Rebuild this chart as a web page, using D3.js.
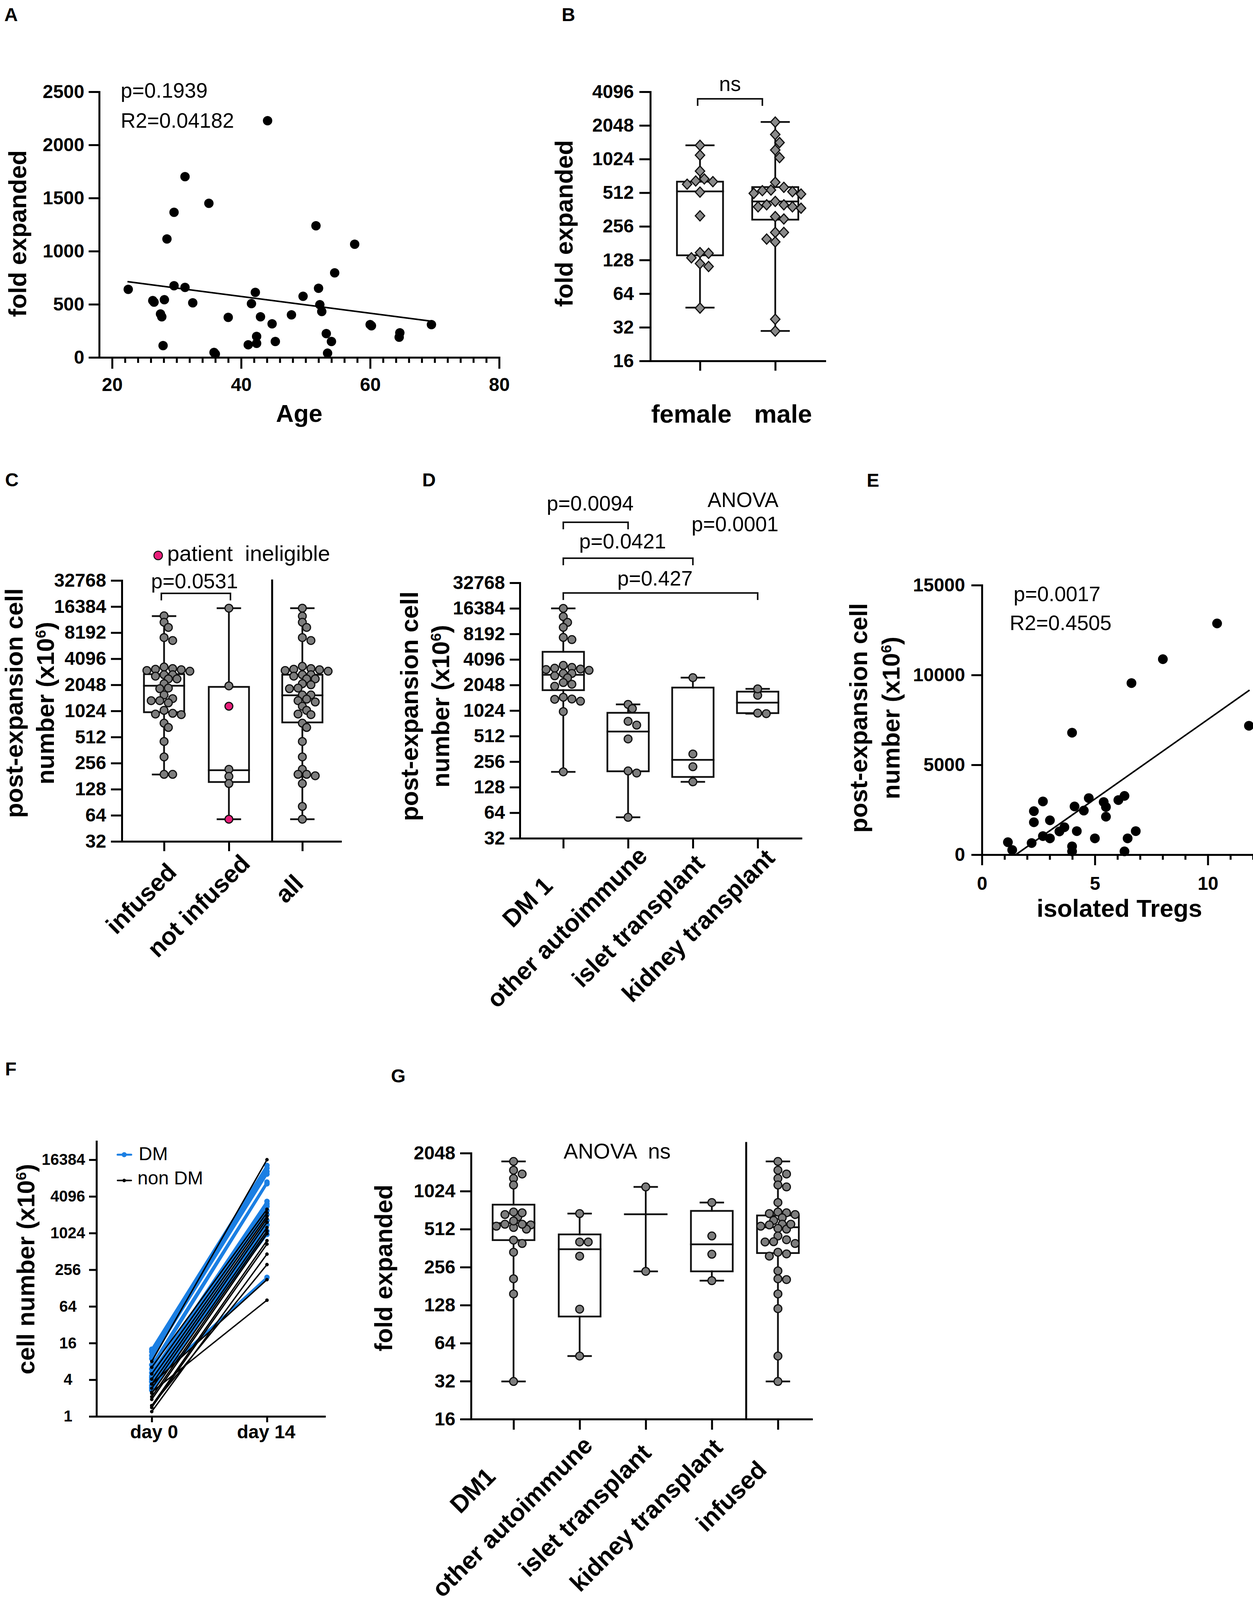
<!DOCTYPE html>
<html><head><meta charset="utf-8">
<script src="https://cdn.jsdelivr.net/npm/d3@7"></script>
<style>
body{margin:0;background:#fff;}
text{font-family:"Liberation Sans", Arial, Helvetica, sans-serif;}
</style></head><body>
<script>
// ---------------- DATA ----------------
// A: age vs fold expanded
const ageA  = [22.5,26.3,26.5,28.1,27.5,27.7,27.9,28.5,29.6,29.6,31.3,31.3,32.5,35.0,35.8,36.0,38.0,41.1,41.6,42.2,42.4,42.4,43.0,44.1,44.8,45.3,47.8,49.6,51.6,52.0,52.2,52.5,53.2,53.4,54.0,54.5,57.6,60.0,60.2,64.6,64.5,69.5];
const foldA = [641,535,520,543,409,382,111,1115,1366,675,1701,659,514,1450,47,32,377,119,506,612,198,132,382,2228,316,150,401,575,1239,651,496,432,224,40,150,796,1065,309,298,232,190,309];
const fitAx = [22.5, 69.6];
const fitAy = [712, 340];
const xTicksA = [20,40,60,80];
const yTicksA = [0,500,1000,1500,2000,2500];

// B: fold expanded by sex
const catsB = ["female","male"];
const bFemale = [1360,1110,800,680,643,652,610,519,318,147,149,134,119,112,47.5];
const bMale = [2195,1700,1440,1235,1055,635,541,572,534,523,498,505,428,399,399,383,372,383,298,313,226,226,186,197,37.8,29.6];
const boxB = [[48,141,526,643,1360],[29.7,294,428,575,2200]]; // min,q1,median,q3,max
const yTicksB = [16,32,64,128,256,512,1024,2048,4096];

// C: post-expansion cell number by infusion
const catsC = ["infused","not infused","all"];
const cInfused = [12800,10800,9420,7190,6650,3100,3290,3160,3060,3000,2940,2680,2680,2580,2400,2400,2110,1850,1880,1565,1345,1420,1270,1345,962,943,928,1040,740,660,455,302,190,190];
const cNotInfused = [15700,1990,1160,217,180,149,57.7];
const cNotInfusedIneligible = [false,false,true,false,false,false,true];
const cAll = [15700,12700,10800,9420,7190,6650,3000,3160,3100,3060,3350,2940,2680,2680,2580,2400,2400,2110,2050,1850,1880,1565,1565,1300,1400,1345,1160,1040,943,928,740,660,455,302,217,183,190,190,149,81,57.7];
const boxC = [[189,990,2000,2720,12700],[57.7,155,212,1940,15700],[57.7,755,1550,2680,15700]];
const yTicksCD = [32,64,128,256,512,1024,2048,4096,8192,16384,32768];

// D: post-expansion cell number by indication
const catsD = ["DM 1","other autoimmune","islet transplant","kidney transplant"];
const dDM1 = [16384,13100,11200,9800,7450,7020,3120,3230,3490,3300,3160,3050,2800,2800,2490,2630,2090,2190,1980,1400,1470,1320,1390,995,194];
const dOther = [1210,1080,765,690,474,199,188,56.5];
const dIslet = [2500,315,223,148];
const dKidney = [1550,1845,942,955];
const boxD = [[194,1780,2700,5040,16384],[56.5,197,580,963,1210],[148,169,269,1910,2500],[942,955,1270,1710,1845]];
const pD = ["p=0.0094","p=0.0421","p=0.427"];

// E: isolated Tregs vs post-expansion cell number
const tregE  = [10.41,8.01,6.62,11.82,3.99,4.73,6.31,6.04,5.39,5.49,5.49,4.10,4.51,2.70,2.30,2.30,3.01,3.65,3.43,4.20,2.70,3.01,5.0,2.20,1.15,1.34,3.99,3.99,6.45,6.81,6.31];
const cellsE = [12870,10880,9550,7176,6790,3148,3272,3040,2932,2654,2114,2685,2454,2963,2423,1805,1913,1528,1296,1312,1034,910,910,648,694,262,463,185,910,1312,185];
const fitEx = [1.5, 11.82];
const fitEy = [0, 9136];
const yTicksE = [0,5000,10000,15000];
const xTicksE = [0,5,10];

// F: cell number day 0 -> day 14
const daysF = ["day 0","day 14"];
const fDay0DM  = [12.7,11.5,10.0,8.9,7.0,6.0,5.2,4.6,4.3,3.7,3.2,2.7,3.0,3.7,2.9,4.0];
const fDay14DM = [13200,11900,10500,9500,7050,6600,3400,3080,2800,2070,1640,1400,970,192,1100,2400];
const fDay0Non  = [8.0,6.4,5.0,4.1,3.4,2.9,2.4,2.1,1.9,1.5,1.4,1.2,1.5,3.4,2.5];
const fDay14Non = [16400,2520,2210,1940,1760,1540,1260,1110,1000,770,675,462,311,176,81];
const yTicksF = [1,4,16,64,256,1024,4096,16384];

// G: fold expanded by indication
const catsG = ["DM1","other autoimmune","islet transplant","kidney transplant","infused"];
const gDM1 = [1760,1500,1400,1290,1145,640,700,690,668,528,553,594,512,560,560,540,419,394,336,207,157,31.8];
const gOther = [680,405,405,313,119,50.6];
const gIslet = [1105,237];
const gKidney = [832,452,324,200];
const gInfused = [1760,1500,1400,1290,1145,1105,832,700,680,690,668,630,600,553,560,512,519,560,540,452,407,422,394,405,313,326,336,239,204,207,157,120,50.6,31.8];
const boxG = [[31.8,419,571,800,1760],[50.6,104,355,465,680],[237,null,672,null,1105],[200,237,388,714,832],[31.8,331,530,657,1760]];
const yTicksG = [16,32,64,128,256,512,1024,2048];

// ---------------- DRAWING ----------------
const W = 3208, H = 4107;
const FONT = '"Liberation Sans", Arial, Helvetica, sans-serif';
const TICKFS = 48, TITLEFS = 63, ANNFS = 53;
const AXW = 5, BOXW = 4.5;
const INK = '#111', GRAY = '#7d7d7d', DGRAY = '#8a8a8a', PINK = '#e91e7a', BLUE = '#1b7fe3';
const intFmt = d3.format('d');

const svg = d3.select('body').append('svg').attr('width', W).attr('height', H)
  .attr('viewBox', `0 0 ${W} ${H}`);
svg.append('rect').attr('width', W).attr('height', H).attr('fill', '#fff');

function styleAxis(g, fs = TICKFS) {
  g.attr('font-family', null).attr('font-size', null);
  g.select('.domain').attr('stroke', '#000').attr('stroke-width', AXW).attr('stroke-linecap', 'square');
  g.selectAll('.tick line').attr('stroke', '#000').attr('stroke-width', AXW);
  g.selectAll('.tick text').attr('fill', '#000').attr('font-size', fs).attr('font-weight', 'bold')
    .attr('font-family', FONT);
  return g;
}
function txt(x, y, s, opts = {}) {
  return svg.append('text').attr('x', x).attr('y', y)
    .attr('font-size', opts.fs || ANNFS).attr('font-weight', opts.bold ? 'bold' : 'normal')
    .attr('text-anchor', opts.anchor || 'start').attr('fill', '#000').text(s);
}
function panelLabel(s, x, y) { txt(x, y, s, {fs: 48, bold: true}); }
function yTitle(lines, xs, cy) {
  lines.forEach((ln, i) => {
    const t = svg.append('text').attr('transform', `translate(${xs[i]},${cy}) rotate(-90)`)
      .attr('text-anchor', 'middle').attr('font-size', TITLEFS).attr('font-weight', 'bold');
    if (typeof ln === 'string') t.text(ln);
    else {
      t.append('tspan').text(ln[0]);
      t.append('tspan').attr('baseline-shift', 'super').attr('font-size', TITLEFS * 0.6).text(ln[1]);
      t.append('tspan').text(ln[2]);
    }
  });
}
function rotLabels(names, xs, axisY, a, b, k = 0.27) {
  names.forEach((n, i) => {
    const t = svg.append('text').attr('text-anchor', 'end').attr('font-size', TITLEFS)
      .attr('font-weight', 'bold').text(n);
    const L = t.node().getComputedTextLength();
    const s = k * L * Math.SQRT1_2;
    t.attr('transform', `translate(${xs[i] + a + s},${axisY + b - s}) rotate(-45)`);
  });
}
function line(g, x1, y1, x2, y2, w = BOXW, c = INK) {
  return g.append('line').attr('x1', x1).attr('y1', y1).attr('x2', x2).attr('y2', y2)
    .attr('stroke', c).attr('stroke-width', w).attr('stroke-linecap', 'square');
}
function boxplot(cx, st, y, bw, cw) {
  const g = svg.append('g');
  const [mn, q1, md, q3, mx] = st;
  if (q1 != null) {
    line(g, cx, y(q3), cx, y(mx));
    line(g, cx, y(q1), cx, y(mn));
    g.append('rect').attr('x', cx - bw / 2).attr('y', y(q3)).attr('width', bw).attr('height', y(q1) - y(q3))
      .attr('fill', 'none').attr('stroke', INK).attr('stroke-width', BOXW);
  } else {
    line(g, cx, y(mx), cx, y(mn));
  }
  line(g, cx - cw / 2, y(mx), cx + cw / 2, y(mx));
  line(g, cx - cw / 2, y(mn), cx + cw / 2, y(mn));
  line(g, cx - bw / 2, y(md), cx + bw / 2, y(md));
}
function swarm(vals, y, minD, step) {
  const order = d3.range(vals.length).sort((a, b) => (y(vals[a]) - y(vals[b])) || (a - b));
  const placed = [], xs = new Array(vals.length).fill(0);
  for (const i of order) {
    const py = y(vals[i]);
    for (let k = 0; k < 80; k++) {
      const off = k === 0 ? 0 : (k % 2 ? 1 : -1) * Math.ceil(k / 2) * step;
      let ok = true;
      for (const p of placed) {
        const dy = p.y - py, dx = p.x - off;
        if (dx * dx + dy * dy < minD * minD) { ok = false; break; }
      }
      if (ok) { xs[i] = off; placed.push({x: off, y: py}); break; }
    }
  }
  return xs;
}
function circles(vals, cx, y, fills) {
  const offs = swarm(vals, y, 15, 11);
  const g = svg.append('g');
  vals.forEach((v, i) => {
    g.append('circle').attr('cx', cx + offs[i]).attr('cy', y(v)).attr('r', 10)
      .attr('fill', fills ? fills[i] : GRAY).attr('stroke', INK).attr('stroke-width', 3);
  });
}
function bracket(x1, x2, yb, leg = 18) {
  svg.append('path').attr('d', `M${x1},${yb + leg}V${yb}H${x2}V${yb + leg}`)
    .attr('fill', 'none').attr('stroke', INK).attr('stroke-width', 4);
}

// ===== Panel A =====
panelLabel('A', 11, 54);
const xA = d3.scaleLinear().domain([18, 80]).range([254, 1278]);
const yA = d3.scaleLinear().domain([0, 2500]).range([915, 235]);
styleAxis(svg.append('g').attr('transform', 'translate(254,0)')
  .call(d3.axisLeft(yA).tickValues(yTicksA).tickFormat(intFmt).tickSize(27).tickPadding(11).tickSizeOuter(0)));
styleAxis(svg.append('g').attr('transform', 'translate(0,915)')
  .call(d3.axisBottom(xA).tickValues(d3.range(22, 80, 2).filter(v => v % 20 !== 0)).tickSize(14).tickFormat('').tickSizeOuter(0)));
styleAxis(svg.append('g').attr('transform', 'translate(0,915)')
  .call(d3.axisBottom(xA).tickValues(xTicksA).tickFormat(intFmt).tickSize(29).tickPadding(23).tickSizeOuter(0)));
line(svg, xA(fitAx[0]), yA(fitAy[0]), xA(fitAx[1]), yA(fitAy[1]), 4, '#000');
svg.append('g').selectAll('circle').data(ageA).join('circle')
  .attr('cx', (d) => xA(d)).attr('cy', (d, i) => yA(foldA[i])).attr('r', 12).attr('fill', '#000');
txt(309, 250, 'p=0.1939');
txt(309, 327, 'R2=0.04182');
yTitle(['fold expanded'], [67], 598);
txt(766, 1080, 'Age', {fs: TITLEFS, bold: true, anchor: 'middle'});

// ===== Panel B =====
panelLabel('B', 1438, 54);
const xB = d3.scalePoint().domain(catsB).range([1665, 2112]).padding(0.66);
const yB = d3.scaleLog().base(2).domain([16, 4096]).range([924, 235]);
styleAxis(svg.append('g').attr('transform', 'translate(1665,0)')
  .call(d3.axisLeft(yB).tickValues(yTicksB).tickFormat(intFmt).tickSize(28).tickPadding(14).tickSizeOuter(0)));
styleAxis(svg.append('g').attr('transform', 'translate(0,924)')
  .call(d3.axisBottom(xB).tickSize(25).tickFormat('').tickSizeOuter(0)));
[bFemale, bMale].forEach((vals, ci) => {
  const cx = xB(catsB[ci]);
  boxplot(cx, boxB[ci], yB, 118, 70);
  const offs = swarm(vals, yB, 21, 11);
  const g = svg.append('g');
  vals.forEach((v, i) => {
    g.append('path').attr('transform', `translate(${cx + offs[i]},${yB(v)})`)
      .attr('d', 'M0,-13L12,0L0,13L-12,0Z').attr('fill', DGRAY).attr('stroke', INK).attr('stroke-width', 3);
  });
});
catsB.forEach(c => txt(xB(c) + (c === 'female' ? -22 : 20), 1082, c, {fs: TITLEFS + 2, bold: true, anchor: 'middle'}));
bracket(xB('female') - 6, xB('male') - 33, 253);
txt((xB('female') - 6 + xB('male') - 33) / 2, 233, 'ns', {anchor: 'middle'});
yTitle(['fold expanded'], [1466], 572);

// ===== Panel C =====
panelLabel('C', 13, 1245);
const xC = d3.scaleLinear().domain([-0.651, 2.723]).range([312, 872]);
const idxC = [0, 1, 2.133];
const yC = d3.scaleLog().base(2).domain([32, 32768]).range([2154, 1486]);
styleAxis(svg.append('g').attr('transform', 'translate(312,0)')
  .call(d3.axisLeft(yC).tickValues(yTicksCD).tickFormat(intFmt).tickSize(28).tickPadding(12).tickSizeOuter(0)));
styleAxis(svg.append('g').attr('transform', 'translate(0,2154)')
  .call(d3.axisBottom(xC).tickValues(idxC).tickSize(25).tickFormat('').tickSizeOuter(0)));
line(svg, xC(1.667), yC(32768), xC(1.667), yC(32), AXW, '#000');
[cInfused, cNotInfused, cAll].forEach((vals, ci) => {
  const cx = xC(idxC[ci]);
  boxplot(cx, boxC[ci], yC, 103, 58);
  circles(vals, cx, yC, ci === 1 ? cNotInfusedIneligible.map(f => f ? PINK : GRAY) : null);
});
svg.append('circle').attr('cx', 405).attr('cy', 1422).attr('r', 11).attr('fill', PINK)
  .attr('stroke', INK).attr('stroke-width', 2.5);
txt(428, 1436, 'patient \u00a0ineligible', {fs: 56});
bracket(xC(0) - 7, xC(1) + 4, 1519);
txt((xC(0) + xC(1)) / 2 - 5, 1506, 'p=0.0531', {anchor: 'middle'});
rotLabels(catsC, idxC.map(xC), 2154, -7, 125);
yTitle(['post-expansion cell', ['number (x10', '6', ')']], [58, 138], 1800);

// ===== Panel D =====
panelLabel('D', 1081, 1245);
const xD = d3.scalePoint().domain(catsD).range([1331, 2051]).padding(0.67);
const yD = d3.scaleLog().base(2).domain([32, 32768]).range([2146, 1492]);
styleAxis(svg.append('g').attr('transform', 'translate(1331,0)')
  .call(d3.axisLeft(yD).tickValues(yTicksCD).tickFormat(intFmt).tickSize(26).tickPadding(12).tickSizeOuter(0)));
styleAxis(svg.append('g').attr('transform', 'translate(0,2146)')
  .call(d3.axisBottom(xD).tickSize(26).tickFormat('').tickSizeOuter(0)));
[dDM1, dOther, dIslet, dKidney].forEach((vals, ci) => {
  const cx = xD(catsD[ci]);
  boxplot(cx, boxD[ci], yD, 106, 58);
  circles(vals, cx, yD);
});
[[1, 1337, 1307], [2, 1429, 1404], [3, 1518, 1499]].forEach(([j, yb, ty], k) => {
  const x1 = xD(catsD[0]), x2 = xD(catsD[j]);
  bracket(x1, x2, yb);
  txt((x1 + x2) / 2 - 14, ty, pD[k], {anchor: 'middle'});
});
txt(1993, 1298, 'ANOVA', {anchor: 'end'});
txt(1993, 1360, 'p=0.0001', {anchor: 'end'});
rotLabels(catsD, catsD.map(xD), 2146, -52, 154);
yTitle(['post-expansion cell', ['number (x10', '6', ')']], [1070, 1150], 1808);

// ===== Panel E =====
panelLabel('E', 2219, 1246);
const xE = d3.scaleLinear().domain([0, 12]).range([2514, 3208]);
const yE = d3.scaleLinear().domain([0, 15000]).range([2188, 1498]);
styleAxis(svg.append('g').attr('transform', 'translate(2514,0)')
  .call(d3.axisLeft(yE).tickValues(yTicksE).tickFormat(intFmt).tickSize(27).tickPadding(16).tickSizeOuter(0)));
styleAxis(svg.append('g').attr('transform', 'translate(0,2188)')
  .call(d3.axisBottom(xE).tickValues(d3.range(1, 13).filter(v => v % 5 !== 0)).tickSize(13).tickFormat('').tickSizeOuter(0)));
styleAxis(svg.append('g').attr('transform', 'translate(0,2188)')
  .call(d3.axisBottom(xE).tickValues(xTicksE).tickFormat(intFmt).tickSize(27).tickPadding(29).tickSizeOuter(0)));
line(svg, xE(fitEx[0]), yE(fitEy[0]), xE(fitEx[1]), yE(fitEy[1]), 4, '#000');
svg.append('g').selectAll('circle').data(tregE).join('circle')
  .attr('cx', d => xE(d)).attr('cy', (d, i) => yE(cellsE[i])).attr('r', 12.5).attr('fill', '#000');
txt(2595, 1539, 'p=0.0017');
txt(2585, 1613, 'R2=0.4505');
yTitle(['post-expansion cell', ['number (x10', '6', ')']], [2220, 2303], 1838);
txt(2866, 2347, 'isolated Tregs', {fs: TITLEFS, bold: true, anchor: 'middle'});

// ===== Panel F =====
panelLabel('F', 13, 2753);
const xF = d3.scaleLinear().domain([-0.534, 1.5]).range([231, 831]);
const yF = d3.scaleLog().base(2).domain([1, 32768]).range([3626, 2922]);
const gyF = styleAxis(svg.append('g').attr('transform', 'translate(247,0)')
  .call(d3.axisLeft(yF).tickValues(yTicksF).tickFormat(intFmt).tickSize(19).tickPadding(10).tickSizeOuter(0)), 40);
gyF.selectAll('.tick text').attr('text-anchor', 'middle').each(function () {
  const w = this.getComputedTextLength();
  d3.select(this).attr('x', Math.min(-73, -29 - w / 2));
});
styleAxis(svg.append('g').attr('transform', 'translate(0,3626)')
  .call(d3.axisBottom(xF).tickValues([0, 1]).tickSize(15).tickFormat('').tickSizeOuter(0)));
daysF.forEach((d, i) => txt(xF(i) + (i ? -2 : 6), 3682, d, {fs: 48, bold: true, anchor: 'middle'}));
const gF = svg.append('g');
fDay0DM.forEach((d0, i) => {
  line(gF, xF(0), yF(d0), xF(1), yF(fDay14DM[i]), 5.5, BLUE).attr('stroke-linecap', 'round');
  gF.append('circle').attr('cx', xF(0)).attr('cy', yF(d0)).attr('r', 7).attr('fill', BLUE);
  gF.append('circle').attr('cx', xF(1)).attr('cy', yF(fDay14DM[i])).attr('r', 7).attr('fill', BLUE);
});
fDay0Non.forEach((d0, i) => {
  line(gF, xF(0), yF(d0), xF(1), yF(fDay14Non[i]), 3.5, '#000').attr('stroke-linecap', 'round');
  gF.append('circle').attr('cx', xF(0)).attr('cy', yF(d0)).attr('r', 4.5).attr('fill', '#000');
  gF.append('circle').attr('cx', xF(1)).attr('cy', yF(fDay14Non[i])).attr('r', 4.5).attr('fill', '#000');
});
line(svg, 301, 2956, 336, 2956, 5, BLUE).attr('stroke-linecap', 'round');
svg.append('circle').attr('cx', 318).attr('cy', 2956).attr('r', 6.5).attr('fill', BLUE);
txt(355, 2970, 'DM', {fs: 48});
line(svg, 301, 3022, 336, 3022, 4, '#000').attr('stroke-linecap', 'round');
svg.append('circle').attr('cx', 318).attr('cy', 3022).attr('r', 4.5).attr('fill', '#000');
txt(352, 3032, 'non DM', {fs: 48});
yTitle([['cell number (x10', '6', ')']], [88], 3249);

// ===== Panel G =====
panelLabel('G', 1001, 2771);
const xG = d3.scaleLinear().domain([-0.643, 4.51]).range([1206, 2078]);
const idxG = [0, 1, 2, 3, 4];
const yG = d3.scaleLog().base(2).domain([16, 2048]).range([3633, 2952]);
styleAxis(svg.append('g').attr('transform', 'translate(1206,0)')
  .call(d3.axisLeft(yG).tickValues(yTicksG).tickFormat(intFmt).tickSize(28).tickPadding(12).tickSizeOuter(0)));
styleAxis(svg.append('g').attr('transform', 'translate(0,3633)')
  .call(d3.axisBottom(xG).tickValues(idxG).tickSize(27).tickFormat('').tickSizeOuter(0)));
line(svg, xG(3.52), 2926, xG(3.52), yG(16), AXW, '#000');
[gDM1, gOther, gIslet, gKidney, gInfused].forEach((vals, ci) => {
  const cx = xG(idxG[ci]);
  boxplot(cx, boxG[ci], yG, 107, 58);
  circles(vals, cx, yG);
});
txt(1580, 2966, 'ANOVA \u00a0ns', {anchor: 'middle', fs: 55});
rotLabels(catsG, idxG.map(xG), 3633, -68, 176);
yTitle(['fold expanded'], [1004], 3246);
</script></body></html>
